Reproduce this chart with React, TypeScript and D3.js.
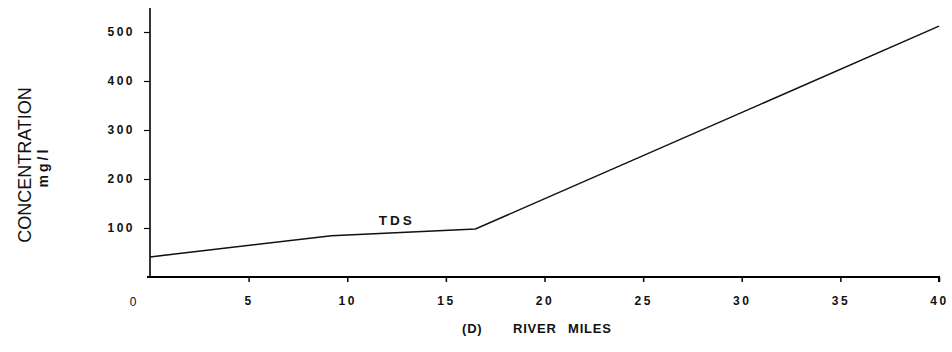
import { useEffect, useRef } from 'react';
import * as d3 from 'd3';

// TDS profile
const riverMiles = [0, 9.2, 16.5, 40];
const tdsValues = [41, 84, 98, 512];

const xTicks = [5, 10, 15, 20, 25, 30, 35, 40];
const yTicks = [100, 200, 300, 400, 500];

const seriesLabel = 'TDS';
const yTitle = 'CONCENTRATION';
const yUnits = 'mg/l';
const xTitleParts = ['(D)', 'RIVER', 'MILES'];

export default function App() {
  const svgRef = useRef<SVGSVGElement>(null);

  useEffect(() => {
    const svg = d3.select(svgRef.current);
    svg.selectAll('*').remove();

    const x = d3.scaleLinear().domain([0, 40]).range([150, 939]);
    const y = d3.scaleLinear().domain([0, 500]).range([277, 32]);
    const font = 'Liberation Sans, Arial, sans-serif';

    // x axis
    const xAxis = svg.append('g')
      .attr('transform', `translate(0,${y(0)})`)
      .call(d3.axisBottom(x).tickValues(xTicks).tickSize(5).tickPadding(14).tickFormat(d3.format('d')));
    xAxis.select('.domain').attr('d', `M${x(0) - 3},0H${x(40)}V5`).attr('stroke-width', 2);
    xAxis.selectAll('.tick line').attr('stroke-width', 1.5);
    xAxis.selectAll('.tick text')
      .attr('font-family', font).attr('font-size', 12).attr('font-weight', 'bold')
      .attr('letter-spacing', 2.5).attr('fill', '#111');

    // y axis
    const yAxis = svg.append('g')
      .attr('transform', `translate(${x(0)},0)`)
      .call(d3.axisLeft(y).tickValues(yTicks).tickSize(6).tickPadding(9).tickFormat(d3.format('d')));
    yAxis.select('.domain').attr('d', `M0,8V${y(0)}`).attr('stroke-width', 1.6);
    yAxis.selectAll('.tick line').attr('stroke-width', 1.2);
    yAxis.selectAll('.tick text')
      .attr('font-family', font).attr('font-size', 12).attr('font-weight', 'bold')
      .attr('letter-spacing', 2.5).attr('fill', '#111');

    // origin label
    svg.append('text')
      .attr('x', x(0) - 17).attr('y', y(0) + 29)
      .attr('text-anchor', 'middle')
      .attr('font-family', font).attr('font-size', 12).attr('fill', '#111')
      .text('0');

    // TDS line
    const data = riverMiles.map((m, i) => ({ m, v: tdsValues[i] }));
    const line = d3.line<{ m: number; v: number }>()
      .x(d => x(d.m))
      .y(d => y(d.v));
    svg.append('path')
      .datum(data)
      .attr('fill', 'none')
      .attr('stroke', '#111')
      .attr('stroke-width', 1.5)
      .attr('d', line);

    svg.append('text')
      .attr('x', x(11.6)).attr('y', y(100) - 3)
      .attr('font-family', font).attr('font-size', 13.5).attr('font-weight', 'bold')
      .attr('letter-spacing', 3).attr('fill', '#111')
      .text(seriesLabel);

    // y titles
    svg.append('text')
      .attr('transform', 'translate(31,165) rotate(-90)')
      .attr('text-anchor', 'middle')
      .attr('font-family', font).attr('font-size', 18).attr('fill', '#111')
      .text(yTitle);
    svg.append('text')
      .attr('transform', 'translate(48,167) rotate(-90)')
      .attr('text-anchor', 'middle')
      .attr('font-family', font).attr('font-size', 14).attr('font-weight', 'bold')
      .attr('letter-spacing', 3).attr('fill', '#111')
      .text(yUnits);

    // x title
    const xTitleX = [462, 513, 568];
    xTitleParts.forEach((t, i) => {
      svg.append('text')
        .attr('x', xTitleX[i]).attr('y', 333)
        .attr('font-family', font).attr('font-size', 13).attr('font-weight', 'bold')
        .attr('letter-spacing', 0.8).attr('fill', '#111')
        .text(t);
    });
  }, []);

  return (
    <svg ref={svgRef} width={952} height={352}
      style={{ position: 'absolute', left: 0, top: 0, background: '#fff' }} />
  );
}
